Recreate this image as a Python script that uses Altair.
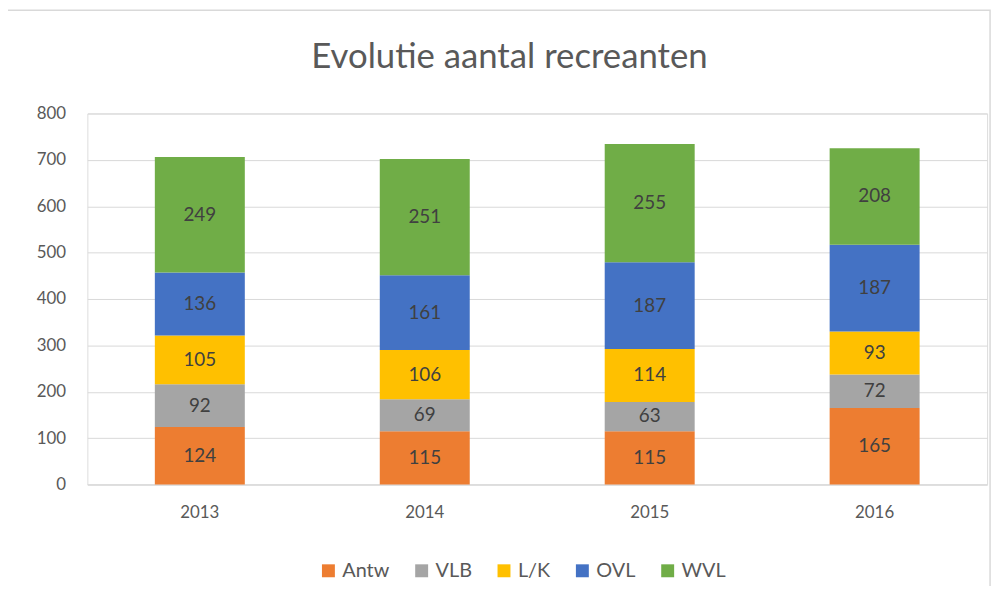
import altair as alt
import pandas as pd

years = ["2013", "2014", "2015", "2016"]
series = ["Antw", "VLB", "L/K", "OVL", "WVL"]
colors = ["#ED7D31", "#A5A5A5", "#FFC000", "#4472C4", "#70AD47"]
antw = [124, 115, 115, 165]
vlb = [92, 69, 63, 72]
lk = [105, 106, 114, 93]
ovl = [136, 161, 187, 187]
wvl = [249, 251, 255, 208]

rows = []
for si, (name, vals) in enumerate(zip(series, [antw, vlb, lk, ovl, wvl])):
    for y, v in zip(years, vals):
        rows.append({"year": y, "series": name, "value": v, "idx": si})
df = pd.DataFrame(rows)

FONT = "Lato"

base = alt.Chart(df).transform_window(
    cum="sum(value)", groupby=["year"], sort=[alt.SortField("idx", order="ascending")],
    frame=[None, 0]
).transform_calculate(
    start="datum.cum - datum.value", mid="datum.cum - datum.value / 2"
)

x_enc = alt.X("year:N", title=None,
              scale=alt.Scale(paddingInner=0.6, paddingOuter=0.3),
              axis=alt.Axis(labelAngle=0, labelFontSize=17, labelColor="#595959",
                            labelFont=FONT, labelPadding=20, ticks=False,
                            domainColor="#D9D9D9", grid=False))

bars = base.mark_bar().encode(
    x=x_enc,
    y=alt.Y("start:Q", title=None,
            scale=alt.Scale(domain=[0, 800]),
            axis=alt.Axis(values=[0, 100, 200, 300, 400, 500, 600, 700, 800],
                          labelFontSize=17, labelColor="#595959", labelFont=FONT,
                          labelPadding=22, ticks=False, domain=False,
                          gridColor="#D9D9D9", gridWidth=1)),
    y2="cum:Q",
    color=alt.Color("series:N", scale=alt.Scale(domain=series, range=colors),
                    sort=series,
                    legend=alt.Legend(title=None, orient="none", direction="horizontal",
                                      legendX=233, legendY=451,
                                      symbolType="square", symbolSize=170,
                                      symbolStrokeWidth=0,
                                      labelFontSize=20, labelColor="#595959",
                                      labelFont=FONT, columnPadding=22,
                                      symbolOpacity=1)),
)

labels = base.mark_text(fontSize=19, color="#404040", font=FONT, baseline="middle").encode(
    x=alt.X("year:N"),
    y=alt.Y("mid:Q"),
    text=alt.Text("value:Q"),
)

frame = alt.Chart(alt.Data(values=[{"a": 1}])).mark_rect(
    fill=None, stroke="#D9D9D9", strokeWidth=1.5
).encode(
    x=alt.value(-82), x2=alt.value(910), y=alt.value(-104), y2=alt.value(488)
)

chart = alt.layer(frame, bars, labels).properties(
    width=907, height=374,
    title=alt.Title("Evolutie aantal recreanten", fontSize=35, font=FONT,
                    fontWeight="normal", color="#595959", anchor="middle",
                    frame="group", dx=-28, offset=-66),
    autosize=alt.AutoSizeParams(type="none"),
    padding={"left": 80, "top": 104, "right": 12, "bottom": 100},
).configure_view(stroke=None).configure(background="white")

chart.save("out.html", embed_options={"renderer": "svg", "actions": False})
